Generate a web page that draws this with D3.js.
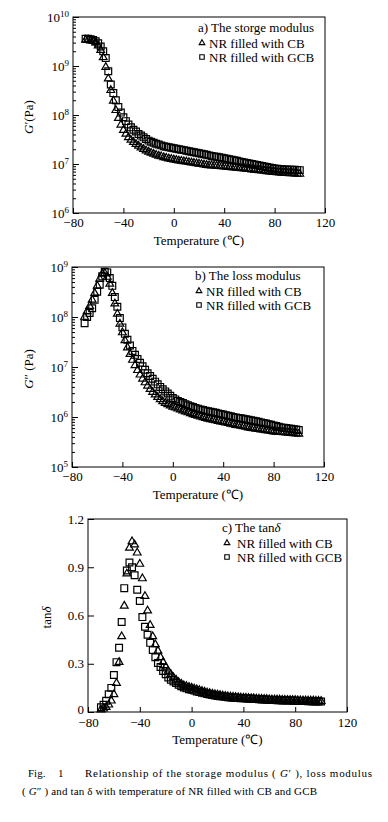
<!DOCTYPE html>
<html>
<head>
<meta charset="utf-8">
<script src="https://cdn.jsdelivr.net/npm/d3@7"></script>
<style>
body { margin: 0; background: #fff; }
svg { display: block; font-family: "Liberation Serif", "Times New Roman", serif; }
</style>
</head>
<body>
<svg width="388" height="822"></svg>
<script>
// temperature (C) of each measurement
var temps = [
    -70, -68, -66, -64, -62, -60, -58, -56, -54, -52,
    -50, -48, -46, -44, -42, -40, -38, -36, -34, -32,
    -30, -28, -26, -24, -22, -20, -18, -16, -14, -12,
    -10, -8, -6, -4, -2, 0, 2, 4, 6, 8,
    10, 12, 14, 16, 18, 20, 22, 24, 26, 28,
    30, 32, 34, 36, 38, 40, 42, 44, 46, 48,
    50, 52, 54, 56, 58, 60, 62, 64, 66, 68,
    70, 72, 74, 76, 78, 80, 82, 84, 86, 88,
    90, 92, 94, 96, 98, 100];

// storage modulus G' (Pa)
var storageCB = [
    3.4e9, 3.4e9, 3.3e9, 3.2e9, 3.0e9, 2.6e9, 2.1e9, 1.5e9, 9.5e8, 5.5e8,
    3.2e8, 1.95e8, 1.25e8, 8.6e7, 6.3e7, 4.9e7, 4.1e7, 3.5e7, 3.1e7, 2.8e7,
    2.55e7, 2.35e7, 2.15e7, 2.0e7, 1.88e7, 1.77e7, 1.68e7, 1.6e7, 1.53e7, 1.47e7,
    1.42e7, 1.37e7, 1.33e7, 1.29e7, 1.26e7, 1.23e7, 1.2e7, 1.17e7, 1.15e7, 1.13e7,
    1.11e7, 1.09e7, 1.07e7, 1.05e7, 1.03e7, 1.01e7, 9.9e6, 9.7e6, 9.5e6, 9.4e6,
    9.3e6, 9.2e6, 9.1e6, 9.0e6, 8.9e6, 8.8e6, 8.7e6, 8.6e6, 8.5e6, 8.4e6,
    8.3e6, 8.2e6, 8.1e6, 8.0e6, 7.9e6, 7.8e6, 7.7e6, 7.6e6, 7.5e6, 7.4e6,
    7.3e6, 7.2e6, 7.1e6, 7.0e6, 6.9e6, 6.8e6, 6.7e6, 6.65e6, 6.6e6, 6.55e6,
    6.5e6, 6.45e6, 6.4e6, 6.35e6, 6.3e6, 6.25e6];
var storageGCB = [
    3.6e9, 3.6e9, 3.5e9, 3.4e9, 3.2e9, 2.9e9, 2.5e9, 2.0e9, 1.45e9, 7.8e8,
    4.2e8, 2.8e8, 2.0e8, 1.45e8, 1.12e8, 9.0e7, 7.5e7, 6.4e7, 5.6e7, 5.0e7,
    4.6e7, 4.1e7, 3.8e7, 3.5e7, 3.25e7, 3.0e7, 2.85e7, 2.7e7, 2.6e7, 2.5e7,
    2.4e7, 2.3e7, 2.25e7, 2.2e7, 2.15e7, 2.1e7, 2.05e7, 2.0e7, 1.96e7, 1.92e7,
    1.87e7, 1.83e7, 1.78e7, 1.74e7, 1.7e7, 1.66e7, 1.62e7, 1.58e7, 1.54e7, 1.5e7,
    1.46e7, 1.43e7, 1.4e7, 1.37e7, 1.34e7, 1.31e7, 1.28e7, 1.25e7, 1.22e7, 1.19e7,
    1.16e7, 1.13e7, 1.1e7, 1.07e7, 1.05e7, 1.02e7, 1.0e7, 9.8e6, 9.6e6, 9.3e6,
    9.1e6, 8.9e6, 8.7e6, 8.5e6, 8.3e6, 8.1e6, 8.0e6, 7.9e6, 7.8e6, 7.75e6,
    7.7e6, 7.65e6, 7.6e6, 7.6e6, 7.55e6, 7.5e6];

// loss modulus G'' (Pa)
var lossCB = [
    1.0e8, 1.3e8, 1.65e8, 2.2e8, 3.0e8, 4.2e8, 5.8e8, 7.3e8, 7.5e8, 6.3e8,
    4.6e8, 3.0e8, 1.85e8, 1.15e8, 7.3e7, 4.9e7, 3.4e7, 2.45e7, 1.8e7, 1.38e7,
    1.08e7, 8.6e6, 7.0e6, 5.8e6, 4.9e6, 4.2e6, 3.6e6, 3.15e6, 2.8e6, 2.5e6,
    2.25e6, 2.05e6, 1.9e6, 1.78e6, 1.68e6, 1.6e6, 1.53e6, 1.46e6, 1.4e6, 1.34e6,
    1.28e6, 1.23e6, 1.18e6, 1.13e6, 1.09e6, 1.05e6, 1.01e6, 9.8e5, 9.5e5, 9.2e5,
    8.9e5, 8.7e5, 8.5e5, 8.3e5, 8.1e5, 7.9e5, 7.7e5, 7.5e5, 7.3e5, 7.1e5,
    6.9e5, 6.75e5, 6.6e5, 6.45e5, 6.3e5, 6.15e5, 6.0e5, 5.9e5, 5.8e5, 5.7e5,
    5.6e5, 5.5e5, 5.4e5, 5.3e5, 5.2e5, 5.1e5, 5.05e5, 5.0e5, 4.95e5, 4.9e5,
    4.85e5, 4.8e5, 4.75e5, 4.7e5, 4.65e5, 4.6e5];
var lossGCB = [
    7.5e7, 1.0e8, 1.2e8, 1.5e8, 2.2e8, 3.2e8, 4.4e8, 6.5e8, 8.0e8, 7.8e8,
    6.0e8, 4.2e8, 2.5e8, 1.6e8, 9.5e7, 6.2e7, 4.6e7, 3.5e7, 2.7e7, 2.1e7,
    1.75e7, 1.45e7, 1.22e7, 1.03e7, 8.8e6, 7.5e6, 6.6e6, 5.8e6, 5.1e6, 4.5e6,
    4.0e6, 3.6e6, 3.25e6, 2.95e6, 2.65e6, 2.4e6, 2.25e6, 2.1e6, 2.0e6, 1.9e6,
    1.8e6, 1.72e6, 1.65e6, 1.58e6, 1.52e6, 1.47e6, 1.42e6, 1.38e6, 1.34e6, 1.3e6,
    1.27e6, 1.24e6, 1.21e6, 1.18e6, 1.15e6, 1.12e6, 1.09e6, 1.06e6, 1.03e6, 1.0e6,
    9.8e5, 9.6e5, 9.4e5, 9.2e5, 9.0e5, 8.8e5, 8.6e5, 8.4e5, 8.2e5, 8.0e5,
    7.8e5, 7.6e5, 7.4e5, 7.2e5, 7.0e5, 6.8e5, 6.6e5, 6.4e5, 6.2e5, 6.1e5,
    6.0e5, 5.9e5, 5.8e5, 5.7e5, 5.6e5, 5.5e5];

// tan delta
var tanCB = [
    0.015, 0.02, 0.03, 0.045, 0.07, 0.11, 0.18, 0.31, 0.47, 0.66,
    0.86, 1.02, 1.06, 1.04, 0.99, 0.92, 0.83, 0.72, 0.63, 0.54,
    0.47, 0.42, 0.38, 0.34, 0.31, 0.28, 0.255, 0.235, 0.215, 0.2,
    0.185, 0.175, 0.165, 0.16, 0.155, 0.15, 0.145, 0.14, 0.135, 0.13,
    0.125, 0.12, 0.117, 0.113, 0.11, 0.107, 0.104, 0.101, 0.099, 0.097,
    0.095, 0.093, 0.092, 0.09, 0.089, 0.088, 0.087, 0.086, 0.085, 0.084,
    0.083, 0.082, 0.081, 0.08, 0.079, 0.078, 0.077, 0.077, 0.076, 0.076,
    0.075, 0.075, 0.074, 0.074, 0.073, 0.073, 0.072, 0.072, 0.071, 0.071,
    0.07, 0.07, 0.07, 0.069, 0.069, 0.068];
var tanGCB = [
    0.03, 0.045, 0.07, 0.11, 0.15, 0.23, 0.31, 0.40, 0.56, 0.77,
    0.88, 0.93, 0.9, 0.85, 0.76, 0.69, 0.59, 0.53, 0.48, 0.43,
    0.385, 0.34, 0.305, 0.28, 0.255, 0.235, 0.215, 0.2, 0.19, 0.18,
    0.17, 0.16, 0.153, 0.147, 0.142, 0.138, 0.133, 0.128, 0.124, 0.12,
    0.116, 0.112, 0.109, 0.106, 0.103, 0.1, 0.098, 0.096, 0.094, 0.092,
    0.09, 0.089, 0.088, 0.087, 0.086, 0.085, 0.084, 0.083, 0.082, 0.081,
    0.08, 0.079, 0.078, 0.077, 0.076, 0.075, 0.074, 0.074, 0.073, 0.073,
    0.072, 0.072, 0.071, 0.071, 0.07, 0.07, 0.069, 0.069, 0.068, 0.068,
    0.067, 0.067, 0.066, 0.066, 0.065, 0.065];

var xTicks = [-80, -40, 0, 40, 80, 120];
var logTicksA = [1e6, 1e7, 1e8, 1e9, 1e10];
var logTicksB = [1e5, 1e6, 1e7, 1e8, 1e9];
var tanTicks = [0, 0.3, 0.6, 0.9, 1.2];
var seriesNames = ["NR filled with CB", "NR filled with GCB"];

var serif = "'Liberation Serif', 'Times New Roman', serif";
var svg = d3.select("svg");

var panels = [
    {left: 73, right: 325, top: 17, bottom: 213, log: true, ticks: logTicksA,
     cb: storageCB, gcb: storageGCB, title: "a) The storge modulus",
     legX: 198, legY: 32, yLab: ["G", "′", "(Pa)"], yLabX: 33},
    {left: 72, right: 324, top: 267, bottom: 467, log: true, ticks: logTicksB,
     cb: lossCB, gcb: lossGCB, title: "b) The loss modulus",
     legX: 195, legY: 280, yLab: ["G", "″", " (Pa)"], yLabX: 33},
    {left: 88, right: 347, top: 519, bottom: 712, log: false, ticks: tanTicks,
     cb: tanCB, gcb: tanGCB, title: "c) The tan", titleDelta: true,
     legX: 222, legY: 532, yLab: null, yLabX: 51}
];

var tri = d3.symbol().type(d3.symbolTriangle);
var sq = d3.symbol().type(d3.symbolSquare);

panels.forEach(drawPanel);

function drawPanel(p) {
    var x = d3.scaleLinear().domain([-80, 120]).range([p.left, p.right]);
    var y = (p.log ? d3.scaleLog() : d3.scaleLinear())
        .domain([p.ticks[0], p.ticks[p.ticks.length - 1]])
        .range([p.bottom, p.top]);
    var g = svg.append("g");

    // x axis, ticks inside
    var xa = g.append("g")
        .attr("transform", "translate(0," + p.bottom + ")")
        .call(d3.axisBottom(x).tickValues(xTicks).tickSizeInner(-5).tickSizeOuter(0).tickPadding(p.log ? 5 : 6));
    xa.select(".domain").remove();
    xa.attr("font-family", serif).attr("font-size", 13);

    // y axis
    var ya = g.append("g")
        .attr("transform", "translate(" + p.left + ",0)")
        .call(d3.axisLeft(y).tickValues(p.ticks).tickSizeInner(-6).tickSizeOuter(0).tickPadding(4)
            .tickFormat(p.log ? function () { return ""; } : function (d) { return d === 0 ? "0" : d3.format(".1f")(d); }));
    ya.select(".domain").remove();
    ya.attr("font-family", serif).attr("font-size", 13);

    if (p.log) {
        ya.selectAll(".tick text").each(function (d) {
            var t = d3.select(this);
            t.append("tspan").text("10");
            t.append("tspan").attr("dy", "-0.55em").attr("font-size", 9).text(Math.round(Math.log10(d)));
        });
        var minor = [];
        for (var k = 0; k < p.ticks.length - 1; k++) {
            for (var m = 2; m < 10; m++) minor.push(m * p.ticks[k]);
        }
        var mi = g.append("g")
            .attr("transform", "translate(" + p.left + ",0)")
            .call(d3.axisLeft(y).tickValues(minor).tickSizeInner(-3).tickSizeOuter(0).tickFormat(""));
        mi.select(".domain").remove();
    } else {
        // lift the zero label a little clear of the -80 label
        ya.selectAll(".tick text").filter(function (d) { return d === 0; }).attr("dy", "0.1em");
    }

    // frame
    g.append("rect")
        .attr("x", p.left).attr("y", p.top)
        .attr("width", p.right - p.left).attr("height", p.bottom - p.top)
        .attr("fill", "none").attr("stroke", "#000").attr("stroke-width", 1);

    // points: CB triangles, then GCB squares (open symbols)
    g.append("g").selectAll("path")
        .data(temps.map(function (t, i) { return [t, p.cb[i]]; }))
        .enter().append("path")
        .attr("d", tri.size(26)())
        .attr("transform", function (d) { return "translate(" + x(d[0]) + "," + y(d[1]) + ")"; })
        .attr("fill", "none").attr("stroke", "#000").attr("stroke-width", 1.2);
    g.append("g").selectAll("path")
        .data(temps.map(function (t, i) { return [t, p.gcb[i]]; }))
        .enter().append("path")
        .attr("d", sq.size(46)())
        .attr("transform", function (d) { return "translate(" + x(d[0]) + "," + y(d[1]) + ")"; })
        .attr("fill", "none").attr("stroke", "#000").attr("stroke-width", 1.2);

    // legend
    var title = g.append("text").attr("x", p.legX).attr("y", p.legY).attr("font-size", 13).text(p.title);
    if (p.titleDelta) title.append("tspan").attr("font-style", "italic").text("δ");
    var lx = p.legX + (p.titleDelta ? 5 : 4);
    [0, 1].forEach(function (i) {
        var ly = p.legY + 12 + i * 14;
        g.append("path")
            .attr("d", (i === 0 ? tri.size(14) : sq.size(20))())
            .attr("transform", "translate(" + lx + "," + (ly - 1) + ")")
            .attr("fill", "#fff").attr("stroke", "#000").attr("stroke-width", 1.1);
        g.append("text").attr("x", lx + (p.titleDelta ? 10 : 7)).attr("y", ly + 4)
            .attr("font-size", 13).text(seriesNames[i]);
    });

    // axis titles
    g.append("text")
        .attr("x", (p.left + p.right) / 2).attr("y", p.bottom + 32)
        .attr("text-anchor", "middle").attr("font-size", 13)
        .text("Temperature (℃)");

    var yl = g.append("text")
        .attr("transform", "translate(" + p.yLabX + "," + ((p.top + p.bottom) / 2 + 2) + ") rotate(-90)")
        .attr("text-anchor", "middle").attr("font-size", 13);
    if (p.yLab) {
        yl.append("tspan").attr("font-style", "italic").text(p.yLab[0]);
        yl.append("tspan").text(p.yLab[1] + p.yLab[2]);
    } else {
        yl.append("tspan").text("tan");
        yl.append("tspan").attr("font-style", "italic").text("δ");
    }
}

// caption
var cap = svg.append("g").attr("font-size", 11).attr("font-family", serif);
cap.append("text").attr("x", 28).attr("y", 777).text("Fig.");
cap.append("text").attr("x", 58).attr("y", 777).text("1");
var c1 = cap.append("text").attr("x", 85).attr("y", 777)
    .attr("textLength", 287).attr("lengthAdjust", "spacing");
c1.append("tspan").text("Relationship of the storage modulus ( ");
c1.append("tspan").attr("font-style", "italic").text("G");
c1.append("tspan").text("′ ),  loss modulus");
var c2 = cap.append("text").attr("x", 22).attr("y", 795)
    .attr("textLength", 295).attr("lengthAdjust", "spacing");
c2.append("tspan").text("( ");
c2.append("tspan").attr("font-style", "italic").text("G");
c2.append("tspan").text("″ ) and tan δ with temperature of NR filled with CB and GCB");
</script>
</body>
</html>
